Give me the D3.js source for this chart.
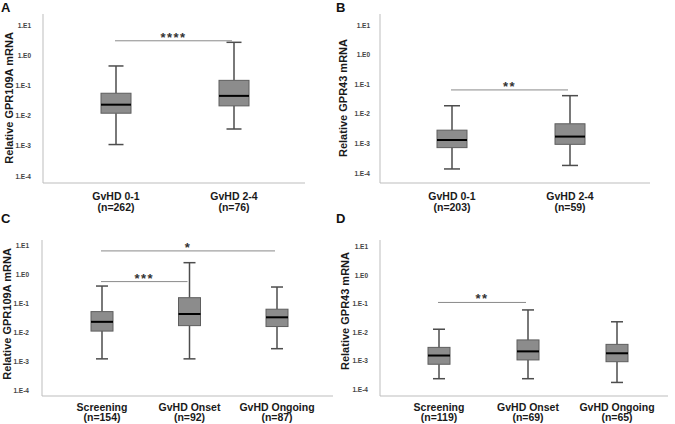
<!DOCTYPE html>
<html><head><meta charset="utf-8">
<script src="https://cdn.jsdelivr.net/npm/d3@7"></script>
<style>body{margin:0;background:#fff}svg{display:block}text{font-family:"Liberation Sans",Arial,sans-serif}</style>
</head><body>
<svg id="c" width="675" height="424"></svg>
<script>
// ---- data ----
const tickValues = [10, 1, 0.1, 0.01, 0.001, 0.0001];
const tickLabels = ["1.E1", "1.E0", "1.E-1", "1.E-2", "1.E-3", "1.E-4"];
const catsAB = ["GvHD 0-1", "GvHD 2-4"];
const catsCD = ["Screening", "GvHD Onset", "GvHD Ongoing"];
const nA = ["(n=262)", "(n=76)"];
const nB = ["(n=203)", "(n=59)"];
const nC = ["(n=154)", "(n=92)", "(n=87)"];
const nD = ["(n=119)", "(n=69)", "(n=65)"];
// [whisker low, Q1, median, Q3, whisker high]
const statsA = [[0.0011, 0.012, 0.023, 0.055, 0.44], [0.0036, 0.021, 0.045, 0.147, 2.67]];
const statsB = [[0.000137, 0.00072, 0.0013, 0.0028, 0.0187], [0.00018, 0.00093, 0.0017, 0.0046, 0.041]];
const statsC = [[0.0012, 0.011, 0.023, 0.052, 0.40], [0.0012, 0.017, 0.043, 0.158, 2.58], [0.0027, 0.0158, 0.033, 0.063, 0.37]];
const statsD = [[0.00023, 0.00074, 0.0015, 0.0029, 0.0126], [0.00023, 0.00105, 0.0021, 0.0053, 0.06], [0.00017, 0.00091, 0.0018, 0.0037, 0.023]];
// significance brackets: [from index, to index, y value, stars]
const sigA = [[0, 1, 3.0, "****"]];
const sigB = [[0, 1, 0.064, "**"]];
const sigC = [[0, 2, 6.6, "*"], [0, 1, 0.57, "***"]];
const sigD = [[0, 1, 0.11, "**"]];

// ---- layout ----
const panels = [
  {letter: "A", title: "Relative GPR109A mRNA", cats: catsAB, ns: nA, stats: statsA, sig: sigA,
   ax: 43, top: 14, bottom: 183, right: 305, yHi: 25, yLo: 176, cx: [116, 234], boxW: 30, capW: 15,
   tx: 12.5, ty: 98, lx: 1, ly: 12, lab1: 200, lab2: 210.5, labOff: 12},
  {letter: "B", title: "Relative GPR43 mRNA", cats: catsAB, ns: nB, stats: statsB, sig: sigB,
   ax: 380, top: 14, bottom: 183, right: 650, yHi: 25, yLo: 173, cx: [452, 570], boxW: 30, capW: 16,
   tx: 347, ty: 98, lx: 336, ly: 12, lab1: 200, lab2: 210.5, labOff: 10},
  {letter: "C", title: "Relative GPR109A mRNA", cats: catsCD, ns: nC, stats: statsC, sig: sigC,
   ax: 42, top: 240, bottom: 396, right: 333, yHi: 245.7, yLo: 390, cx: [102, 277], boxW: 22, capW: 12,
   tx: 11, ty: 314, lx: 1, ly: 223, lab1: 410.5, lab2: 421, labOff: 13},
  {letter: "D", title: "Relative GPR43 mRNA", cats: catsCD, ns: nD, stats: statsD, sig: sigD,
   ax: 380, top: 240, bottom: 396, right: 668, yHi: 246.7, yLo: 389, cx: [439, 617], boxW: 22, capW: 12,
   tx: 349, ty: 311, lx: 336, ly: 223, lab1: 410.5, lab2: 421, labOff: 12}
];

const svg = d3.select("#c");

panels.forEach(p => {
  const g = svg.append("g");
  const y = d3.scaleLog().domain([1e-4, 10]).range([p.yLo, p.yHi]);
  const x = d3.scalePoint().domain(p.cats).range(p.cx);

  // axis lines
  g.append("line").attr("x1", p.ax).attr("x2", p.ax).attr("y1", p.top).attr("y2", p.bottom)
    .attr("stroke", "#bdbdbd").attr("stroke-width", 1);
  g.append("line").attr("x1", p.ax).attr("x2", p.right).attr("y1", p.bottom).attr("y2", p.bottom)
    .attr("stroke", "#bdbdbd").attr("stroke-width", 1);

  // y axis tick labels
  const yAxis = d3.axisLeft(y).tickValues(tickValues)
    .tickFormat((d, i) => tickLabels[i]).tickSize(0).tickPadding(p.labOff);
  const ag = g.append("g").attr("transform", `translate(${p.ax},0)`).call(yAxis);
  ag.select(".domain").remove();
  ag.selectAll("text").attr("font-size", 6.5).attr("font-weight", "bold").attr("fill", "#444")
    .attr("font-family", "'Liberation Sans', Arial, sans-serif");

  // boxes
  p.stats.forEach((s, i) => {
    const cx = x(p.cats[i]);
    const [lo, q1, med, q3, hi] = s;
    const wc = "#4d4d4d";
    g.append("line").attr("x1", cx).attr("x2", cx).attr("y1", y(hi)).attr("y2", y(q3)).attr("stroke", wc).attr("stroke-width", 1.5);
    g.append("line").attr("x1", cx).attr("x2", cx).attr("y1", y(q1)).attr("y2", y(lo)).attr("stroke", wc).attr("stroke-width", 1.5);
    g.append("line").attr("x1", cx - p.capW / 2).attr("x2", cx + p.capW / 2).attr("y1", y(hi)).attr("y2", y(hi)).attr("stroke", wc).attr("stroke-width", 1.5);
    g.append("line").attr("x1", cx - p.capW / 2).attr("x2", cx + p.capW / 2).attr("y1", y(lo)).attr("y2", y(lo)).attr("stroke", wc).attr("stroke-width", 1.5);
    g.append("rect").attr("x", cx - p.boxW / 2).attr("width", p.boxW)
      .attr("y", y(q3)).attr("height", y(q1) - y(q3))
      .attr("fill", "#8c8c8c").attr("stroke", "#5e5e5e").attr("stroke-width", 1);
    g.append("line").attr("x1", cx - p.boxW / 2).attr("x2", cx + p.boxW / 2).attr("y1", y(med)).attr("y2", y(med))
      .attr("stroke", "#000").attr("stroke-width", 2);

    // category labels
    g.append("text").attr("x", cx).attr("y", p.lab1).attr("text-anchor", "middle")
      .attr("font-size", 10.5).attr("font-weight", "bold").attr("fill", "#1a1a1a").text(p.cats[i]);
    g.append("text").attr("x", cx).attr("y", p.lab2).attr("text-anchor", "middle")
      .attr("font-size", 10.5).attr("font-weight", "bold").attr("fill", "#1a1a1a").text(p.ns[i]);
  });

  // significance
  p.sig.forEach(([a, b, v, stars]) => {
    const x1 = x(p.cats[a]) - 1, x2 = x(p.cats[b]) - 2, yy = y(v);
    g.append("line").attr("x1", x1).attr("x2", x2).attr("y1", yy).attr("y2", yy)
      .attr("stroke", "#8a8a8a").attr("stroke-width", 1);
    g.append("text").attr("x", (x1 + x2) / 2).attr("y", yy + 1).attr("text-anchor", "middle")
      .attr("font-size", 13).attr("font-weight", "bold").attr("letter-spacing", 1.5)
      .attr("fill", "#333").text(stars);
  });

  // y title
  g.append("text").attr("transform", `translate(${p.tx},${p.ty}) rotate(-90)`)
    .attr("text-anchor", "middle").attr("font-size", 11).attr("font-weight", "bold")
    .attr("fill", "#1a1a1a").text(p.title);

  // panel letter
  g.append("text").attr("x", p.lx).attr("y", p.ly).attr("font-size", 13).attr("font-weight", "bold")
    .attr("fill", "#111").text(p.letter);
});
</script>
</body></html>
